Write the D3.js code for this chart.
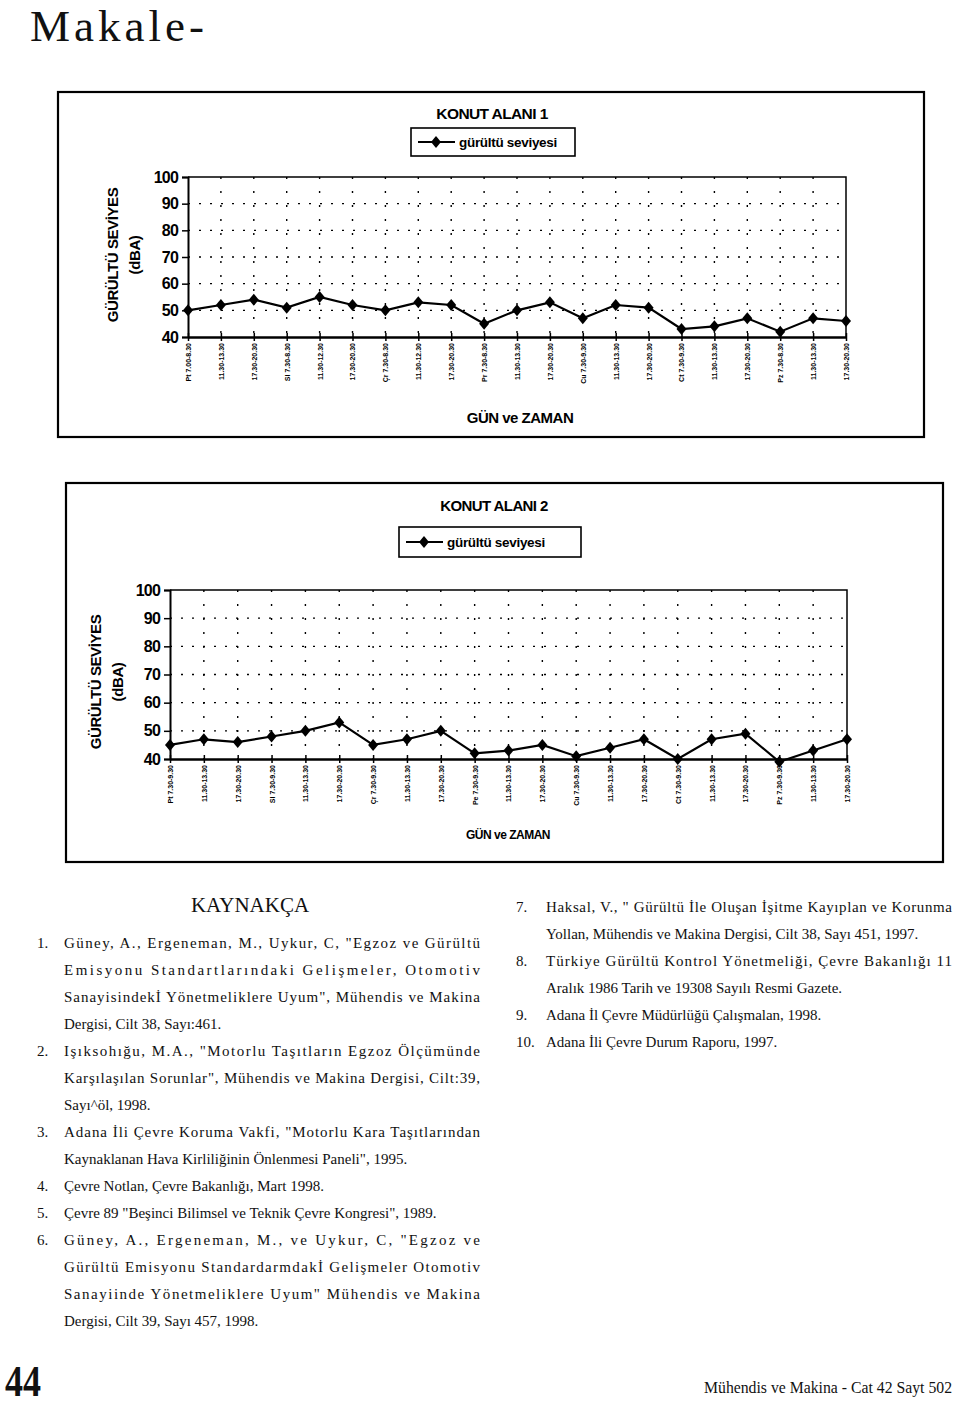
<!DOCTYPE html>
<html>
<head>
<meta charset="utf-8">
<script src="https://cdn.jsdelivr.net/npm/d3@7"></script>
<style>
  body { margin: 0; background: #fff; }
  svg { display: block; }
  .serif { font-family: "Liberation Serif", "Times New Roman", serif; fill: #111; }
  .chart text { font-family: "Liberation Sans", Arial, sans-serif; font-weight: bold; fill: #000; }
</style>
</head>
<body>
<svg id="page" width="960" height="1408"></svg>
<script>
// chart data
const labels1 = ['Pt 7.00-8.30', '11.30-13.30', '17.30-20.30', 'Sl 7.30-8.30', '11.30-12.30', '17.30-20.30',
  'Çr 7.30-8.30', '11.30-12.30', '17.30-20.30', 'Pr 7.30-8.30', '11.30-13.30', '17.30-20.30',
  'Cu 7.30-9.30', '11.30-13.30', '17.30-20.30', 'Ct 7.30-9.30', '11.30-13.30', '17.30-20.30',
  'Pz 7.30-8.30', '11.30-13.30', '17.30-20.30']
const values1 = [50, 52, 54, 51, 55, 52, 50, 53, 52, 45, 50, 53, 47, 52, 51, 43, 44, 47, 42, 47, 46]

const labels2 = ['Pt 7.30-9.30', '11.30-13.30', '17.30-20.30', 'Sl 7.30-9.30', '11.30-13.30', '17.30-20.30',
  'Çr 7.30-9.30', '11.30-13.30', '17.30-20.30', 'Pe 7.30-9.30', '11.30-13.30', '17.30-20.30',
  'Cu 7.30-9.30', '11.30-13.30', '17.30-20.30', 'Ct 7.30-9.30', '11.30-13.30', '17.30-20.30',
  'Pz 7.30-9.30', '11.30-13.30', '17.30-20.30']
const values2 = [45, 47, 46, 48, 50, 53, 45, 47, 50, 42, 43, 45, 41, 44, 47, 40, 47, 49, 39, 43, 47]

const yTicks = [40, 50, 60, 70, 80, 90, 100]

// bibliography text, one entry per line of the page
const refsLeft = [
  { n: '1.', lines: ['Güney, A., Ergeneman, M., Uykur, C, "Egzoz ve Gürültü',
    'Emisyonu Standartlarındaki Gelişmeler, Otomotiv',
    'Sanayisindekİ Yönetmeliklere Uyum",  Mühendis ve Makina',
    'Dergisi, Cilt 38, Sayı:461.'] },
  { n: '2.', lines: ['Işıksohığu, M.A., "Motorlu Taşıtların Egzoz Ölçümünde',
    'Karşılaşılan Sorunlar", Mühendis ve Makina Dergisi, Cilt:39,',
    'Sayı^öl, 1998.'] },
  { n: '3.', lines: ['Adana İli Çevre Koruma Vakfi, "Motorlu Kara Taşıtlarından',
    'Kaynaklanan Hava Kirliliğinin Önlenmesi Paneli", 1995.'] },
  { n: '4.', lines: ['Çevre Notlan, Çevre Bakanlığı, Mart 1998.'] },
  { n: '5.', lines: ['Çevre 89 "Beşinci Bilimsel ve Teknik Çevre Kongresi", 1989.'] },
  { n: '6.', lines: ['Güney, A., Ergeneman, M., ve Uykur, C, "Egzoz ve',
    'Gürültü Emisyonu Standardarmdakİ Gelişmeler Otomotiv',
    'Sanayiinde Yönetmeliklere Uyum" Mühendis ve Makina',
    'Dergisi, Cilt 39, Sayı 457, 1998.'] }
]
const refsRight = [
  { n: '7.', lines: ['Haksal, V., " Gürültü İle Oluşan İşitme Kayıplan ve Korunma',
    'Yollan, Mühendis ve Makina Dergisi, Cilt 38, Sayı 451, 1997.'] },
  { n: '8.', lines: ['Türkiye Gürültü Kontrol Yönetmeliği, Çevre Bakanlığı 11',
    'Aralık 1986 Tarih ve 19308 Sayılı Resmi Gazete.'] },
  { n: '9.', lines: ['Adana İl Çevre Müdürlüğü Çalışmalan, 1998.'] },
  { n: '10.', lines: ['Adana İli Çevre Durum Raporu, 1997.'] }
]

const svg = d3.select('#page')
const diamond = 'M0,-6L5,0L0,6L-5,0Z'

svg.append('text').attr('class', 'serif')
  .attr('x', 30).attr('y', 41)
  .attr('font-size', 45).attr('letter-spacing', 4)
  .text('Makale-')

function drawChart (cfg) {
  const g = svg.append('g').attr('class', 'chart')
  const p = cfg.plot

  g.append('rect')
    .attr('x', cfg.frame.x).attr('y', cfg.frame.y)
    .attr('width', cfg.frame.w).attr('height', cfg.frame.h)
    .attr('fill', 'none').attr('stroke', '#000').attr('stroke-width', 2.2)

  const x = d3.scalePoint()
    .domain(d3.range(cfg.values.length))
    .range([p.x0, p.x1])
  const y = d3.scaleLinear()
    .domain([40, 100])
    .range([p.y1, p.y0])

  // dotted grid
  g.append('g').selectAll('line')
    .data(yTicks.slice(1, -1))
    .join('line')
    .attr('x1', p.x0).attr('x2', p.x1)
    .attr('y1', (d) => y(d)).attr('y2', (d) => y(d))
    .attr('stroke', '#000').attr('stroke-width', 1.4)
    .attr('stroke-dasharray', '2,9')
  g.append('g').selectAll('line')
    .data(x.domain().slice(1, -1))
    .join('line')
    .attr('x1', (d) => x(d)).attr('x2', (d) => x(d))
    .attr('y1', y(100)).attr('y2', y(40))
    .attr('stroke', '#000').attr('stroke-width', 1.4)
    .attr('stroke-dasharray', '2,12')

  // plot border top/right
  g.append('path')
    .attr('d', `M${p.x0},${y(100)}H${p.x1}V${y(40)}`)
    .attr('fill', 'none').attr('stroke', '#000').attr('stroke-width', 1.5)

  g.append('g')
    .attr('transform', `translate(${p.x0},0)`)
    .call(d3.axisLeft(y).tickValues(yTicks).tickSize(6).tickPadding(4))
    .call((ax) => {
      ax.select('.domain').attr('stroke-width', 2)
      ax.selectAll('.tick line').attr('stroke-width', 1.5)
      ax.selectAll('text').attr('font-size', 16).attr('letter-spacing', -0.8)
    })

  g.append('g')
    .attr('transform', `translate(0,${y(40)})`)
    .call(d3.axisBottom(x).tickSize(4).tickSizeOuter(0).tickFormat((i) => cfg.labels[i]))
    .call((ax) => {
      ax.select('.domain').attr('stroke-width', 2.5)
      ax.selectAll('.tick line').attr('y1', -4).attr('stroke-width', 1.5)
      ax.selectAll('text')
        .attr('font-size', 7)
        .attr('transform', 'rotate(-90)')
        .attr('text-anchor', 'end')
        .attr('x', -6).attr('y', 0).attr('dy', '0.35em')
    })

  const line = d3.line()
    .x((d, i) => x(i))
    .y((d) => y(d))
  g.append('path')
    .datum(cfg.values)
    .attr('d', line)
    .attr('fill', 'none').attr('stroke', '#000').attr('stroke-width', 2.2)
  g.append('g').selectAll('path')
    .data(cfg.values)
    .join('path')
    .attr('transform', (d, i) => `translate(${x(i)},${y(d)})`)
    .attr('d', diamond)
    .attr('fill', '#000')

  // title + legend
  g.append('text')
    .attr('x', cfg.title.x).attr('y', cfg.title.y)
    .attr('text-anchor', 'middle')
    .attr('font-size', cfg.title.size).attr('letter-spacing', -0.6)
    .text(cfg.title.text)
  const lg = cfg.legend
  g.append('rect')
    .attr('x', lg.x).attr('y', lg.y).attr('width', lg.w).attr('height', lg.h)
    .attr('fill', '#fff').attr('stroke', '#000').attr('stroke-width', 1.6)
  g.append('line')
    .attr('x1', lg.x + 7).attr('x2', lg.x + 44)
    .attr('y1', lg.y + lg.h / 2).attr('y2', lg.y + lg.h / 2)
    .attr('stroke', '#000').attr('stroke-width', 2.2)
  g.append('path')
    .attr('transform', `translate(${lg.x + 25},${lg.y + lg.h / 2})`)
    .attr('d', diamond).attr('fill', '#000')
  g.append('text')
    .attr('x', lg.x + 48).attr('y', lg.y + lg.h / 2 + 5)
    .attr('font-size', 13.5).attr('letter-spacing', -0.3)
    .text('gürültü seviyesi')

  // axis titles
  const yt = g.append('text')
    .attr('transform', `translate(${cfg.ytitle.x},${cfg.ytitle.y}) rotate(-90)`)
    .attr('text-anchor', 'middle')
    .attr('font-size', 15).attr('letter-spacing', -0.4)
  yt.append('tspan').attr('x', 0).attr('dy', 0).text('GÜRÜLTÜ SEVİYES')
  yt.append('tspan').attr('x', 0).attr('dy', 22).text('(dBA)')

  g.append('text')
    .attr('x', cfg.xtitle.x).attr('y', cfg.xtitle.y)
    .attr('text-anchor', 'middle')
    .attr('font-size', cfg.xtitle.size).attr('letter-spacing', -0.5)
    .text('GÜN ve ZAMAN')
}

drawChart({
  labels: labels1,
  values: values1,
  frame: { x: 58, y: 92, w: 866, h: 345 },
  plot: { x0: 188, x1: 846, y0: 177, y1: 337 },
  title: { x: 492, y: 119, size: 15.5, text: 'KONUT ALANI 1' },
  legend: { x: 411, y: 128, w: 164, h: 28 },
  ytitle: { x: 118, y: 255 },
  xtitle: { x: 520, y: 423, size: 15 }
})

drawChart({
  labels: labels2,
  values: values2,
  frame: { x: 66, y: 483, w: 877, h: 379 },
  plot: { x0: 170, x1: 847, y0: 590, y1: 759 },
  title: { x: 494, y: 511, size: 15, text: 'KONUT ALANI 2' },
  legend: { x: 399, y: 527, w: 182, h: 30 },
  ytitle: { x: 101, y: 682 },
  xtitle: { x: 508, y: 839, size: 12 }
})

// bibliography
const body = svg.append('g').attr('class', 'serif').attr('font-size', 15)

body.append('text')
  .attr('x', 250).attr('y', 912)
  .attr('text-anchor', 'middle').attr('font-size', 21)
  .text('KAYNAKÇA')

function drawRefs (refs, numX, textX, width, startY) {
  let yPos = startY
  refs.forEach((r) => {
    body.append('text').attr('x', numX).attr('y', yPos).text(r.n)
    r.lines.forEach((ln, i) => {
      const t = body.append('text').attr('x', textX).attr('y', yPos).text(ln)
      if (i < r.lines.length - 1) {
        t.attr('textLength', width).attr('lengthAdjust', 'spacing')
      }
      yPos += 27
    })
  })
}

drawRefs(refsLeft, 37, 64, 416, 948)
drawRefs(refsRight, 516, 546, 406, 912)

// footer
svg.append('text').attr('class', 'serif')
  .attr('transform', 'translate(5,1396) scale(0.8,1)')
  .attr('font-size', 45).attr('font-weight', 'bold')
  .attr('font-family', '"Liberation Sans", Arial, sans-serif')
  .text('44')
svg.append('text').attr('class', 'serif')
  .attr('x', 704).attr('y', 1393)
  .attr('font-size', 16)
  .attr('textLength', 248).attr('lengthAdjust', 'spacingAndGlyphs')
  .text('Mühendis ve Makina - Cat 42  Sayt 502')
</script>
</body>
</html>
